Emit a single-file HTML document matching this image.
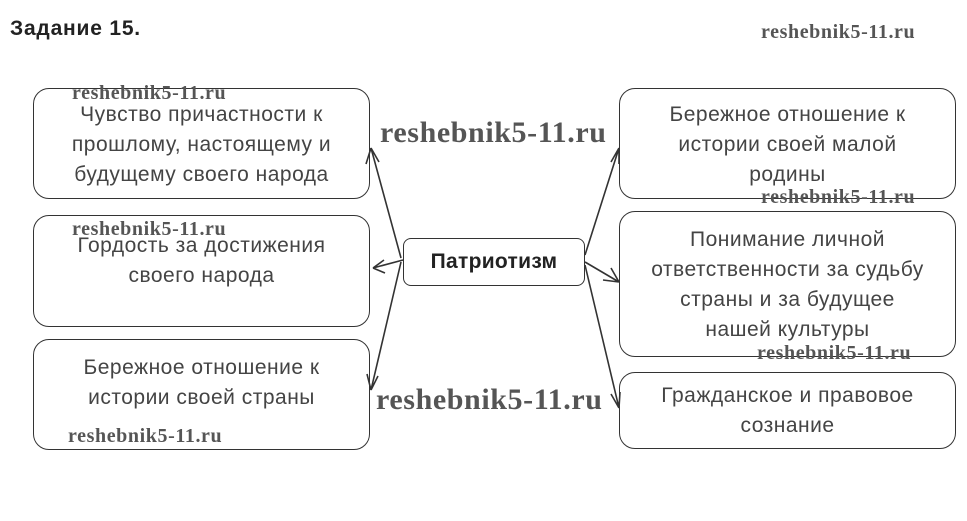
<!DOCTYPE html>
<html><head><meta charset="utf-8"><style>
body{margin:0;width:967px;height:521px;background:#fff;position:relative;overflow:hidden;font-family:"Liberation Sans",sans-serif}
.b{position:absolute;border:1.5px solid #333;border-radius:16px;box-sizing:border-box;text-align:center;color:#444;font-size:21px;letter-spacing:0.5px;line-height:30px}
.w{position:absolute;font-family:"Liberation Serif",serif;font-weight:bold;color:#555;white-space:nowrap;letter-spacing:0.6px}
</style></head><body>
<div style="position:absolute;left:10px;top:17px;font-weight:bold;font-size:21px;letter-spacing:0.8px;color:#222">Задание 15.</div>
<svg width="967" height="521" style="position:absolute;left:0;top:0" fill="none" stroke="#333" stroke-width="1.6">
<path d="M401,258 L371,148 M371,148 L366,164 M371,148 L379,162"/>
<path d="M403,260 L373,268 M373,268 L384,260 M373,268 L385,273"/>
<path d="M401,262 L371,390 M371,390 L367,374 M371,390 L378,376"/>
<path d="M585,255 L619,148 M619,148 L611,162 M619,148 L619,164"/>
<path d="M585,262 L619,282 M619,282 L603,280 M619,282 L611,268"/>
<path d="M585,265 L619,408 M619,408 L611,394 M619,408 L620,392"/>
</svg>
<div class="b" style="left:33px;top:88px;width:337px;height:111px;padding-top:11px">Чувство причастности к<br>прошлому, настоящему и<br>будущему своего народа</div>
<div class="b" style="left:33px;top:215px;width:337px;height:112px;padding-top:15px">Гордость за достижения<br>своего народа</div>
<div class="b" style="left:33px;top:339px;width:337px;height:111px;padding-top:13px">Бережное отношение к<br>истории своей страны</div>
<div class="b" style="left:403px;top:238px;width:182px;height:48px;border-radius:8px;color:#222;font-weight:bold;line-height:46px;letter-spacing:0.3px">Патриотизм</div>
<div class="b" style="left:619px;top:88px;width:337px;height:111px;padding-top:11px">Бережное отношение к<br>истории своей малой<br>родины</div>
<div class="b" style="left:619px;top:211px;width:337px;height:146px;padding-top:13px">Понимание личной<br>ответственности за судьбу<br>страны и за будущее<br>нашей культуры</div>
<div class="b" style="left:619px;top:372px;width:337px;height:77px;padding-top:8px">Гражданское и правовое<br>сознание</div>
<div class="w" style="left:761px;top:21px;font-size:20px">reshebnik5-11.ru</div>
<div class="w" style="left:72px;top:82px;font-size:20px">reshebnik5-11.ru</div>
<div class="w" style="left:380px;top:116px;font-size:30px">reshebnik5-11.ru</div>
<div class="w" style="left:761px;top:186px;font-size:20px">reshebnik5-11.ru</div>
<div class="w" style="left:72px;top:218px;font-size:20px">reshebnik5-11.ru</div>
<div class="w" style="left:757px;top:342px;font-size:20px">reshebnik5-11.ru</div>
<div class="w" style="left:376px;top:383px;font-size:30px">reshebnik5-11.ru</div>
<div class="w" style="left:68px;top:425px;font-size:20px">reshebnik5-11.ru</div>
</body></html>
